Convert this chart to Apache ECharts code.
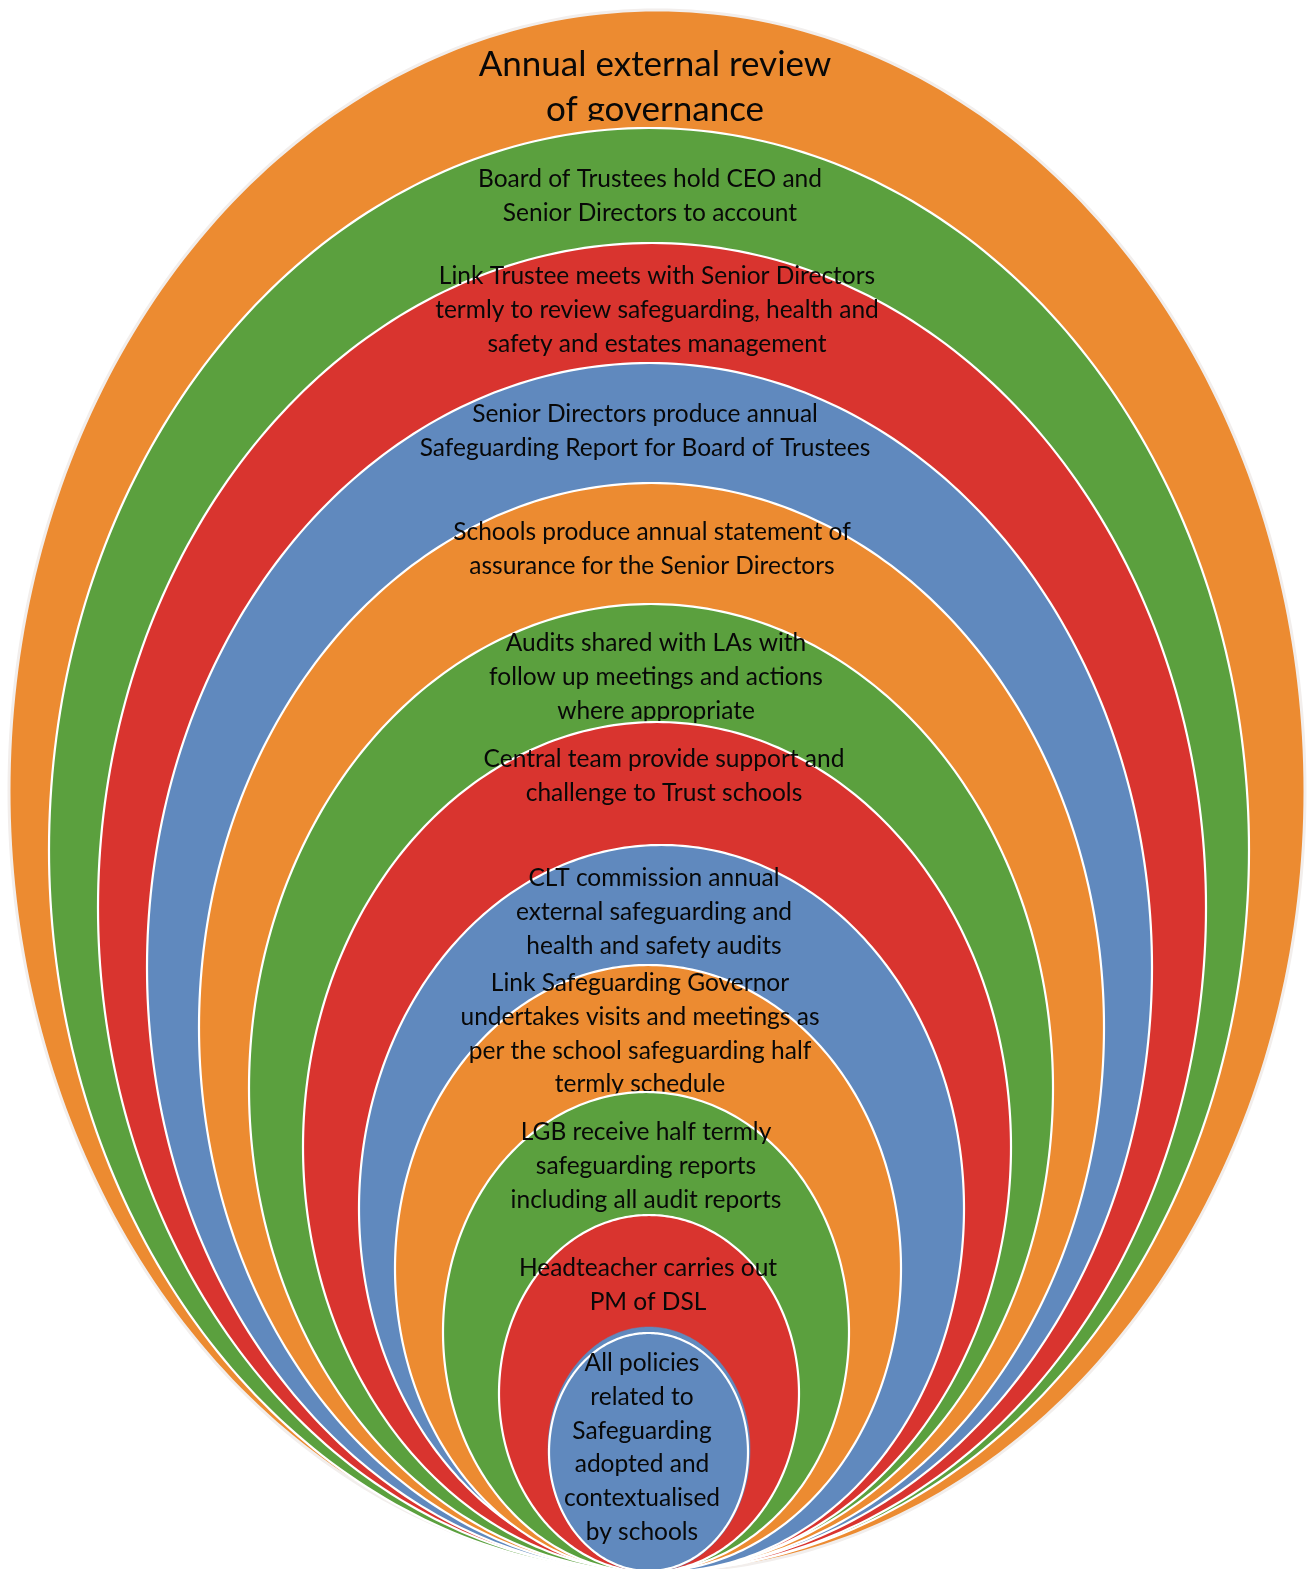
<!DOCTYPE html>
<html>
<head>
<meta charset="utf-8">
<script src="https://cdn.jsdelivr.net/npm/echarts@6/dist/echarts.min.js"></script>
<style>
  html, body { margin: 0; padding: 0; background: #ffffff; }
  #chart { width: 1309px; height: 1569px; }
</style>
</head>
<body>
<div id="chart"></div>
<script>
// ---- Data: nested accountability levels (outermost first) ----
const labels = [
  'Annual external review\nof governance',
  'Board of Trustees hold CEO and\nSenior Directors to account',
  'Link Trustee meets with Senior Directors\ntermly to review safeguarding, health and\nsafety and estates management',
  'Senior Directors produce annual\nSafeguarding Report for Board of Trustees',
  'Schools produce annual statement of\nassurance for the Senior Directors',
  'Audits shared with LAs with\nfollow up meetings and actions\nwhere appropriate',
  'Central team provide support and\nchallenge to Trust schools',
  'CLT commission annual\nexternal safeguarding and\nhealth and safety audits',
  'Link Safeguarding Governor\nundertakes visits and meetings as\nper the school safeguarding half\ntermly schedule',
  'LGB receive half termly\nsafeguarding reports\nincluding all audit reports',
  'Headteacher carries out\nPM of DSL',
  '',
  'All policies\nrelated to\nSafeguarding\nadopted and\ncontextualised\nby schools'
];
// ellipse extents in axis units (last two = innermost level and its outline)
const ringLeft   = [9, 49, 98, 147, 199, 249, 303, 359, 395, 443, 499, 548, 549];
const ringRight  = [1305, 1249, 1206, 1152, 1104, 1053, 1011, 964, 901, 849, 799, 750, 748];
const ringTop    = [10, 128, 243, 363, 483, 604, 722, 845, 965, 1092, 1215, 1327, 1333];
const ringBottom = [1572, 1572, 1572, 1572, 1572, 1572, 1572, 1572, 1572, 1572, 1572, 1572, 1571];
// label anchor: centre x and first-line centre y; text box bottom (0 = none)
const labelX = [655, 650, 657, 645, 652, 656, 664, 654, 640, 646, 648, 642, 642];
const labelY = [65, 179, 276, 414, 532, 643, 759, 878, 983, 1132, 1268, 0, 1363];
const labelBoxBottom = [121, 0, 0, 0, 0, 0, 0, 0, 0, 0, 0, 0, 1544];

// ---- Styles ----
const palette = ['#EC8B31', '#5BA03E', '#D9342F', '#6089BE'];
const ringColor = labels.map((_, i) => i === 12 ? palette[3] : palette[i % 4]);
const FONT = 'Lato, "Open Sans", sans-serif';

const chart = echarts.init(document.getElementById('chart'), null, { renderer: 'canvas' });

const seriesData = labels.map((_, i) => [i, ringLeft[i], ringRight[i], ringTop[i], ringBottom[i]]);

function renderItem(params, api) {
  const i = api.value(0);
  const l = api.value(1), r = api.value(2), t = api.value(3), b = api.value(4);
  const cx = (l + r) / 2, cy = (t + b) / 2, ax = (r - l) / 2, ay = (b - t) / 2;
  const pts = [];
  const N = 360;
  for (let k = 0; k < N; k++) {
    const a = (k / N) * Math.PI * 2;
    pts.push(api.coord([cx + ax * Math.cos(a), cy + ay * Math.sin(a)]));
  }
  const children = [{
    type: 'polygon',
    shape: { points: pts },
    style: {
      fill: ringColor[i],
      stroke: i === 0 ? '#F2EEEC' : (i === 11 ? ringColor[i] : '#ffffff'),
      lineWidth: i === 0 ? 3 : (i === 11 ? 0.5 : 2.2)
    }
  }];
  const txt = labels[i];
  if (txt) {
    const lh = i === 0 ? 45 : 33.8;
    const p = api.coord([labelX[i], labelY[i]]);
    const textEl = {
      type: 'text',
      style: {
        text: txt,
        x: p[0],
        y: p[1] - lh / 2,
        align: 'center',
        verticalAlign: 'top',
        lineHeight: lh,
        fill: '#080808',
        font: (i === 0 ? '35px ' : '24.5px ') + FONT
      }
    };
    if (labelBoxBottom[i]) {
      const c0 = api.coord([0, 0]);
      const c1 = api.coord([1309, labelBoxBottom[i]]);
      textEl.clipPath = {
        type: 'rect',
        shape: { x: c0[0], y: c0[1], width: c1[0] - c0[0], height: c1[1] - c0[1] }
      };
    }
    children.push(textEl);
  }
  return { type: 'group', children };
}

chart.setOption({
  animation: false,
  backgroundColor: '#ffffff',
  grid: { left: 0, right: 0, top: 0, bottom: 0 },
  xAxis: { type: 'value', min: 0, max: 1309, show: false },
  yAxis: { type: 'value', min: 0, max: 1569, inverse: true, show: false },
  series: [{
    type: 'custom',
    coordinateSystem: 'cartesian2d',
    renderItem: renderItem,
    data: seriesData,
    clip: false
  }]
});
</script>
</body>
</html>
